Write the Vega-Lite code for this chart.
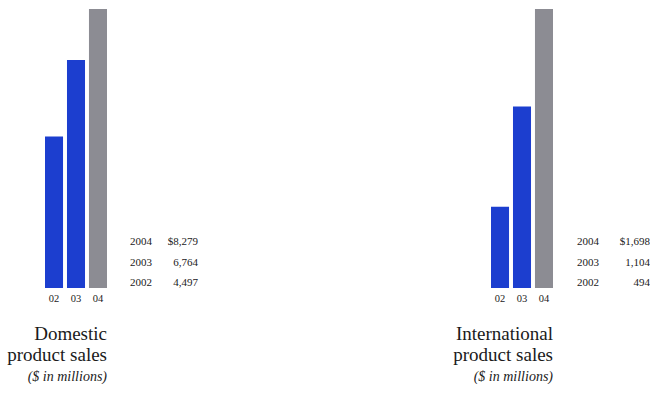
{
  "$schema": "https://vega.github.io/schema/vega-lite/v6.json",
  "padding": {"left": 7, "top": 9, "right": 0, "bottom": 0},
  "background": "white",
  "bounds": "flush",
  "spacing": 446,
  "datasets": {
    "dom": [
      {"yr": "02", "sales": 4497},
      {"yr": "03", "sales": 6764},
      {"yr": "04", "sales": 8279}
    ],
    "intl": [
      {"yr": "02", "sales": 494},
      {"yr": "03", "sales": 1104},
      {"yr": "04", "sales": 1698}
    ],
    "domTable": [
      {"year": 2004, "amount": "$8,279"},
      {"year": 2003, "amount": "6,764"},
      {"year": 2002, "amount": "4,497"}
    ],
    "intlTable": [
      {"year": 2004, "amount": "$1,698"},
      {"year": 2003, "amount": "1,104"},
      {"year": 2002, "amount": "494"}
    ]
  },
  "hconcat": [
    {
      "bounds": "flush",
      "spacing": 23,
      "hconcat": [
        {
          "width": 62,
          "height": 279,
          "data": {"name": "dom"},
          "title": {
            "text": ["Domestic", "product sales"],
            "subtitle": "($ in millions)"
          },
          "mark": {"type": "bar"},
          "encoding": {
            "x": {"field": "yr", "type": "ordinal", "scale": {"paddingInner": 0.18, "paddingOuter": 0}, "axis": {"title": null}},
            "y": {"field": "sales", "type": "quantitative", "scale": {"nice": false, "zero": true}, "axis": null},
            "color": {"field": "yr", "type": "nominal", "scale": {"domain": ["02", "03", "04"], "range": ["#1c3ecf", "#1c3ecf", "#8c8c93"]}, "legend": null}
          }
        },
        {
          "width": 68,
          "height": 279,
          "data": {"name": "domTable"},
          "layer": [
            {
              "mark": {"type": "text", "align": "left", "fontSize": 11},
              "encoding": {
                "x": {"datum": "year", "type": "nominal", "scale": {"type": "point", "domain": ["year", "amount"], "padding": 0}, "axis": null},
                "y": {"field": "year", "type": "quantitative", "scale": {"domain": [2001.76, 2015.37], "nice": false, "zero": false}, "axis": null},
                "text": {"field": "year", "type": "nominal"}
              }
            },
            {
              "mark": {"type": "text", "align": "right", "fontSize": 11},
              "encoding": {
                "x": {"datum": "amount", "type": "nominal", "scale": {"type": "point", "domain": ["year", "amount"], "padding": 0}, "axis": null},
                "y": {"field": "year", "type": "quantitative", "scale": {"domain": [2001.76, 2015.37], "nice": false, "zero": false}, "axis": null},
                "text": {"field": "amount"}
              }
            }
          ]
        }
      ]
    },
    {
      "bounds": "flush",
      "spacing": 24,
      "hconcat": [
        {
          "width": 62,
          "height": 279,
          "data": {"name": "intl"},
          "title": {
            "text": ["International", "product sales"],
            "subtitle": "($ in millions)"
          },
          "mark": {"type": "bar"},
          "encoding": {
            "x": {"field": "yr", "type": "ordinal", "scale": {"paddingInner": 0.18, "paddingOuter": 0}, "axis": {"title": null}},
            "y": {"field": "sales", "type": "quantitative", "scale": {"nice": false, "zero": true}, "axis": null},
            "color": {"field": "yr", "type": "nominal", "scale": {"domain": ["02", "03", "04"], "range": ["#1c3ecf", "#1c3ecf", "#8c8c93"]}, "legend": null}
          }
        },
        {
          "width": 73,
          "height": 279,
          "data": {"name": "intlTable"},
          "layer": [
            {
              "mark": {"type": "text", "align": "left", "fontSize": 11},
              "encoding": {
                "x": {"datum": "year", "type": "nominal", "scale": {"type": "point", "domain": ["year", "amount"], "padding": 0}, "axis": null},
                "y": {"field": "year", "type": "quantitative", "scale": {"domain": [2001.76, 2015.37], "nice": false, "zero": false}, "axis": null},
                "text": {"field": "year", "type": "nominal"}
              }
            },
            {
              "mark": {"type": "text", "align": "right", "fontSize": 11},
              "encoding": {
                "x": {"datum": "amount", "type": "nominal", "scale": {"type": "point", "domain": ["year", "amount"], "padding": 0}, "axis": null},
                "y": {"field": "year", "type": "quantitative", "scale": {"domain": [2001.76, 2015.37], "nice": false, "zero": false}, "axis": null},
                "text": {"field": "amount"}
              }
            }
          ]
        }
      ]
    }
  ],
  "resolve": {"scale": {"color": "independent"}},
  "config": {
    "font": "Liberation Serif",
    "view": {"stroke": null},
    "text": {"color": "#1a1a1a", "font": "Liberation Serif"},
    "axisX": {
      "domain": false,
      "ticks": false,
      "labelAngle": 0,
      "labelFont": "Liberation Serif",
      "labelFontSize": 10.5,
      "labelColor": "#1a1a1a",
      "labelPadding": 5
    },
    "title": {
      "orient": "bottom",
      "anchor": "end",
      "font": "Liberation Serif",
      "fontSize": 19,
      "fontWeight": "normal",
      "color": "#1a1a1a",
      "lineHeight": 21,
      "offset": 21,
      "subtitleFont": "Liberation Serif",
      "subtitleFontSize": 14,
      "subtitleFontStyle": "italic",
      "subtitleColor": "#1a1a1a",
      "subtitlePadding": 5
    }
  }
}
